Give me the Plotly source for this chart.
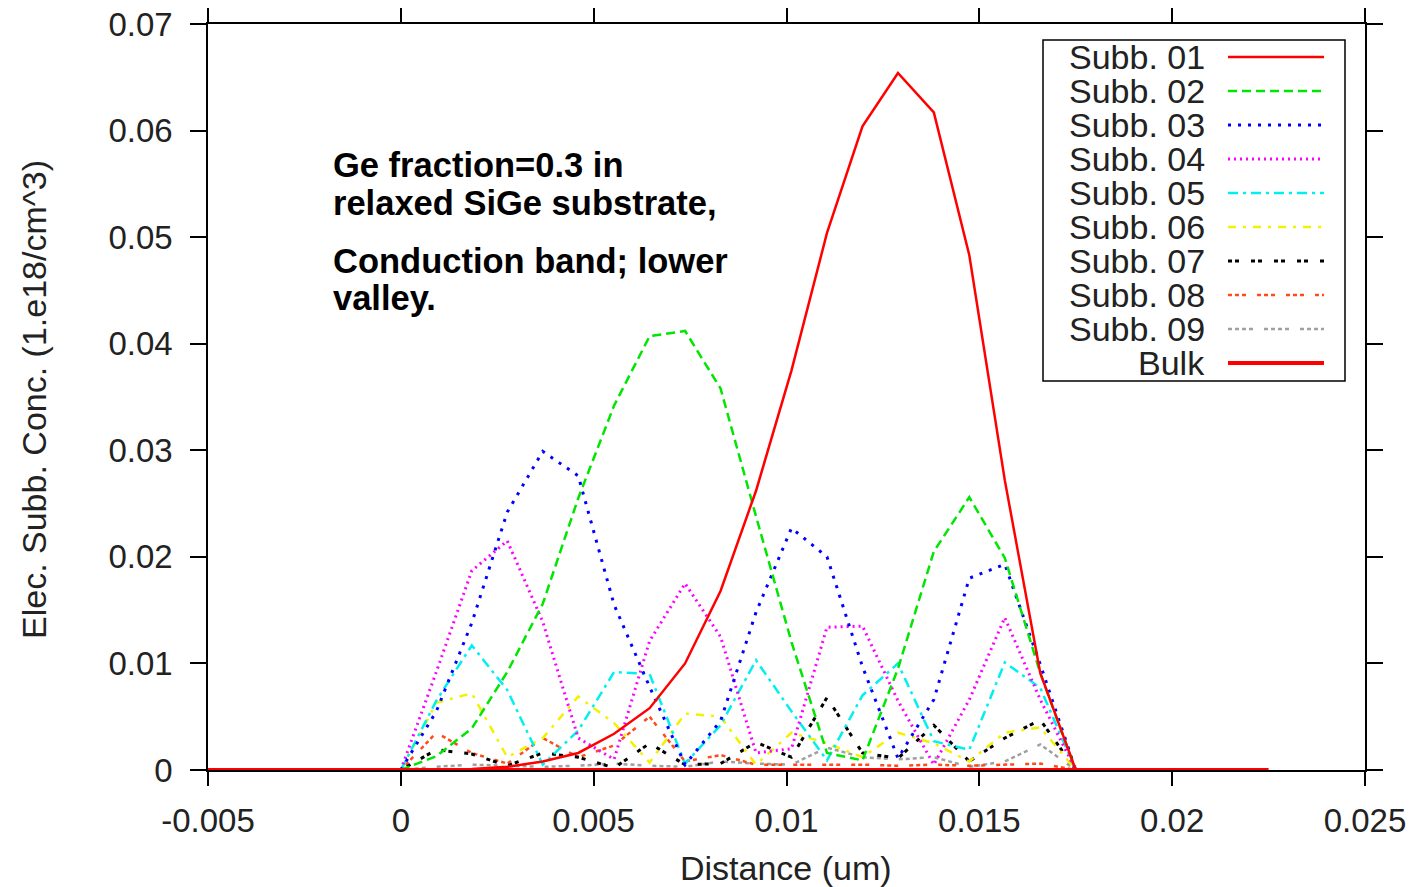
import plotly.graph_objects as go

# ---------------- data ----------------
distance = [0.0, 0.00092, 0.00184, 0.00276, 0.00368, 0.0046, 0.00553, 0.00645,
            0.00737, 0.00829, 0.00921, 0.01013, 0.01105, 0.01197, 0.01289,
            0.01382, 0.01474, 0.01566, 0.01658, 0.0175]

subb01 = [0, 0.00002, 0.0001, 0.0003, 0.0008, 0.0016, 0.0034, 0.0058, 0.0100, 0.0168,
          0.0262, 0.0375, 0.0504, 0.0604, 0.0654, 0.0617, 0.0483, 0.0272, 0.0091, 0]
subb02 = [0, 0.0013, 0.0039, 0.0092, 0.0156, 0.0255, 0.0342, 0.0407, 0.0412, 0.0358,
          0.0238, 0.0120, 0.0016, 0.0009, 0.0095, 0.0205, 0.0256, 0.0199, 0.0091, 0]
subb03 = [0, 0.0055, 0.0138, 0.0242, 0.0299, 0.0276, 0.0155, 0.0078, 0.0005, 0.0046,
          0.0148, 0.0227, 0.0200, 0.0097, 0.0011, 0.0066, 0.0180, 0.0193, 0.0099, 0]
subb04 = [0, 0.0092, 0.0187, 0.0215, 0.0139, 0.0030, 0.0010, 0.0121, 0.0175, 0.0125,
          0.0016, 0.0020, 0.0134, 0.0135, 0.0065, 0.0005, 0.0066, 0.0143, 0.0066, 0]
subb05 = [0, 0.0065, 0.0117, 0.0075, 0.0005, 0.0037, 0.0092, 0.0090, 0.0006, 0.0042,
          0.0103, 0.0055, 0.0009, 0.0070, 0.0100, 0.0027, 0.0019, 0.0101, 0.0077, 0]
subb06 = [0, 0.0063, 0.0072, 0.0012, 0.0030, 0.0069, 0.0044, 0.0007, 0.0053, 0.0050,
          0.0005, 0.0035, 0.0025, 0.0012, 0.0035, 0.0025, 0.0008, 0.0035, 0.0040, 0]
subb07 = [0, 0.0019, 0.0015, 0.0004, 0.0016, 0.0012, 0.0002, 0.0025, 0.0005, 0.0006,
          0.0026, 0.0012, 0.0068, 0.0016, 0.0011, 0.0042, 0.0008, 0.0030, 0.0047, 0]
subb08 = [0, 0.0035, 0.0016, 0.0006, 0.0030, 0.0012, 0.0023, 0.0050, 0.0008, 0.0014,
          0.0005, 0.0005, 0.0005, 0.0005, 0.0004, 0.0005, 0.0004, 0.0005, 0.0006, 0]
subb09 = [0, 0.0003, 0.0005, 0.0004, 0.0003, 0.0004, 0.0006, 0.0004, 0.0003, 0.0008,
          0.0006, 0.0005, 0.0021, 0.0012, 0.0010, 0.0012, 0.0003, 0.0008, 0.0024, 0]

bulk_x = [-0.005, 0.0225]
bulk_y = [0, 0]

series_names = ["Subb. 01", "Subb. 02", "Subb. 03", "Subb. 04", "Subb. 05",
                "Subb. 06", "Subb. 07", "Subb. 08", "Subb. 09", "Bulk"]

x_tickvals = [-0.005, 0, 0.005, 0.01, 0.015, 0.02, 0.025]
x_ticktext = ["-0.005", "0", "0.005", "0.01", "0.015", "0.02", "0.025"]
y_tickvals = [0, 0.01, 0.02, 0.03, 0.04, 0.05, 0.06, 0.07]
y_ticktext = ["0", "0.01", "0.02", "0.03", "0.04", "0.05", "0.06", "0.07"]

note_lines = ["Ge fraction=0.3 in", "relaxed SiGe substrate,",
              "Conduction band; lower", "valley."]

# ---------------- styles ----------------
styles = [
    dict(color="#ff0000", width=2.5, dash="solid"),
    dict(color="#00e600", width=2.5, dash="9px,5px"),
    dict(color="#0000ff", width=3, dash="3px,7px"),
    dict(color="#ff00ff", width=3, dash="2px,4px"),
    dict(color="#00f0f0", width=2.5, dash="10px,5px,3px,5px"),
    dict(color="#f2f200", width=2.5, dash="8px,7px,3px,7px"),
    dict(color="#000000", width=3, dash="4px,3px,4px,12px"),
    dict(color="#ff4a1a", width=2.5, dash="4px,3px,4px,3px,4px,11px"),
    dict(color="#a0a0a0", width=2.5, dash="4px,3px,4px,3px,4px,3px,4px,11px"),
    dict(color="#ff0000", width=4, dash="solid"),
]

subbands = [subb01, subb02, subb03, subb04, subb05, subb06, subb07, subb08, subb09]

fig = go.Figure()
# draw higher subbands first so that Subb. 01 ends up on top
for i in reversed(range(len(subbands))):
    fig.add_trace(go.Scatter(x=distance, y=subbands[i], mode="lines",
                             name=series_names[i], line=styles[i],
                             showlegend=False, hoverinfo="skip"))
fig.add_trace(go.Scatter(x=bulk_x, y=bulk_y, mode="lines", name="Bulk",
                         line=styles[9], showlegend=False, hoverinfo="skip"))

# ---------------- layout helpers (screen pixel -> paper) ----------------
# The page body has an 8px margin, so the figure is drawn at (8, 8).
OFF = 8
W, H = 1416 - 2 * OFF, 887 - OFF
X0, X1 = 208, 1365          # plot area in screen pixels
Y0, Y1 = 24, 770


def px(xp):
    return (xp - X0) / (X1 - X0)


def py(yp):
    return (Y1 - yp) / (Y1 - Y0)


FONT = "Liberation Sans, Arial, Helvetica, sans-serif"
TXT = "#222222"

annotations = []
shapes = []

# legend box (gnuplot style: text right aligned, sample on the right)
shapes.append(dict(type="rect", xref="paper", yref="paper",
                   x0=px(1043), x1=px(1345), y0=py(381), y1=py(40),
                   line=dict(color="#000000", width=1.5), fillcolor="white",
                   layer="above"))
for i, name in enumerate(series_names):
    yrow = 57 + 34 * i
    annotations.append(dict(xref="paper", yref="paper", x=px(1207), y=py(yrow),
                            xanchor="right", yanchor="middle", showarrow=False,
                            text=name, font=dict(family=FONT, size=34, color=TXT)))
    st = styles[i]
    shapes.append(dict(type="line", xref="paper", yref="paper",
                       x0=px(1228), x1=px(1324), y0=py(yrow), y1=py(yrow),
                       line=dict(color=st["color"], width=st["width"], dash=st["dash"]),
                       layer="above"))

# note text
for text, yc in zip(note_lines, [165, 203, 261, 298]):
    annotations.append(dict(xref="paper", yref="paper", x=px(331), y=py(yc),
                            xanchor="left", yanchor="middle", showarrow=False,
                            text="<b>" + text + "</b>",
                            font=dict(family=FONT, size=34.5, color="#000000")))

# axis titles
annotations.append(dict(xref="paper", yref="paper", x=px(786), y=py(868),
                        xanchor="center", yanchor="middle", showarrow=False,
                        text="Distance (um)",
                        font=dict(family=FONT, size=34, color=TXT)))
annotations.append(dict(xref="paper", yref="paper", x=px(34), y=py(400),
                        xanchor="center", yanchor="middle", showarrow=False,
                        textangle=-90, text="Elec. Subb. Conc. (1.e18/cm^3)",
                        font=dict(family=FONT, size=34, color=TXT)))

fig.update_layout(
    width=W, height=H,
    margin=dict(l=X0 - OFF, r=(W + OFF) - X1, t=Y0 - OFF, b=(H + OFF) - Y1, pad=0,
                autoexpand=False),
    paper_bgcolor="white", plot_bgcolor="white",
    font=dict(family=FONT, size=33, color=TXT),
    showlegend=False,
    annotations=annotations,
    shapes=shapes,
)
fig.update_xaxes(range=[-0.005, 0.025], tickmode="array", tickvals=x_tickvals,
                 ticktext=x_ticktext, showgrid=False, zeroline=False, automargin=False,
                 showline=True, linecolor="#000000", linewidth=1.5, mirror="allticks",
                 ticks="outside", ticklen=14, tickwidth=1.5, tickcolor="#000000",
                 ticklabelstandoff=7, ticklabeloverflow="allow",
                 tickfont=dict(family=FONT, size=33, color=TXT))
fig.update_yaxes(range=[0, 0.07], tickmode="array", tickvals=y_tickvals,
                 ticktext=y_ticktext, showgrid=False, zeroline=False, automargin=False,
                 showline=True, linecolor="#000000", linewidth=1.5, mirror="allticks",
                 ticks="outside", ticklen=16, tickwidth=1.5, tickcolor="#000000",
                 ticklabelstandoff=11, ticklabeloverflow="allow",
                 tickfont=dict(family=FONT, size=33, color=TXT))

fig.write_html("out.html")
